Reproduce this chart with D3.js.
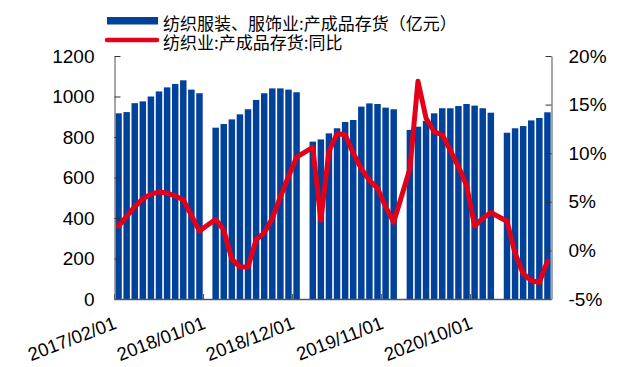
<!DOCTYPE html>
<html><head><meta charset="utf-8">
<script src="https://cdn.jsdelivr.net/npm/d3@7"></script>
<style>body{margin:0;background:#fff}svg{display:block}</style>
</head><body>
<svg id="c" width="626" height="367"></svg>
<script>
const months = [
"2017/02/01","2017/03/01","2017/04/01","2017/05/01","2017/06/01","2017/07/01","2017/08/01","2017/09/01","2017/10/01","2017/11/01","2017/12/01",
"2018/01/01","2018/02/01","2018/03/01","2018/04/01","2018/05/01","2018/06/01","2018/07/01","2018/08/01","2018/09/01","2018/10/01","2018/11/01","2018/12/01",
"2019/01/01","2019/02/01","2019/03/01","2019/04/01","2019/05/01","2019/06/01","2019/07/01","2019/08/01","2019/09/01","2019/10/01","2019/11/01","2019/12/01",
"2020/01/01","2020/02/01","2020/03/01","2020/04/01","2020/05/01","2020/06/01","2020/07/01","2020/08/01","2020/09/01","2020/10/01","2020/11/01","2020/12/01",
"2021/01/01","2021/02/01","2021/03/01","2021/04/01","2021/05/01","2021/06/01","2021/07/01"];
const inventory = [
917,923,967,976,1000,1025,1045,1062,1080,1034,1016,
null,846,864,887,912,937,983,1016,1040,1040,1034,1021,
null,777,788,818,843,874,884,950,966,963,945,937,
null,835,851,880,917,942,942,953,963,955,942,920,
null,821,843,854,882,894,922];
const yoy = [
2.5,3.5,4.5,5.3,5.8,6.0,5.9,5.6,5.2,3.6,2.0,
null,3.2,2.1,-0.9,-1.7,-1.7,1.1,1.8,3.3,5.5,7.6,9.6,
null,10.6,3.1,10.2,12.0,11.9,10.0,8.4,7.2,6.4,4.5,2.9,
null,8.4,17.4,13.6,12.2,11.9,10.3,8.6,6.7,2.5,3.3,3.9,
null,3.0,-0.3,-2.4,-3.1,-3.3,-1.1];
const xTickLabels = ["2017/02/01","2018/01/01","2018/12/01","2019/11/01","2020/10/01"];
const leftTicks = [0,200,400,600,800,1000,1200];
const rightTicks = [-5,0,5,10,15,20];
const seriesNames = ["纺织服装、服饰业:产成品存货（亿元）","纺织业:产成品存货:同比"];

const svg = d3.select("#c");
const L = 114.5, R = 551.5, T = 56, B = 299;
const x = d3.scaleBand().domain(months).range([L, R]).paddingInner(0.2).paddingOuter(0.1);
const yL = d3.scaleLinear().domain([0,1200]).range([B,T]);
const yR = d3.scaleLinear().domain([-5,20]).range([B,T]);
const blue = "#00419a", red = "#e3001b";
const font = "'Liberation Sans', Arial, sans-serif";

// bars
svg.append("g").selectAll("rect").data(months.map((m,i)=>({m, v:inventory[i]})).filter(d=>d.v!=null))
  .join("rect")
  .attr("x", d=>x(d.m)).attr("width", x.bandwidth())
  .attr("y", d=>yL(d.v)).attr("height", d=>B - yL(d.v))
  .attr("fill", blue);

// line
const pts = months.map((m,i)=>({m, v:yoy[i]})).filter(d=>d.v!=null);
svg.append("path").datum(pts)
  .attr("fill","none").attr("stroke",red).attr("stroke-width",5)
  .attr("stroke-linejoin","round").attr("stroke-linecap","round")
  .attr("d", d3.line().x(d=>x(d.m)+x.bandwidth()/2).y(d=>yR(d.v)));

// left axis
const gl = svg.append("g").attr("transform",`translate(${L},0)`)
  .call(d3.axisLeft(yL).tickValues(leftTicks).tickFormat(d=>String(d)).tickSizeInner(-6).tickSizeOuter(0).tickPadding(20));
gl.select(".domain").attr("stroke","#888").attr("stroke-width",1.5);
gl.selectAll(".tick line").attr("stroke","#333");
gl.selectAll(".tick text").attr("font-family",font).attr("font-size",19).attr("fill","#000");

// right axis
const gr = svg.append("g").attr("transform",`translate(${R},0)`)
  .call(d3.axisRight(yR).tickValues(rightTicks).tickFormat(d=>d+"%").tickSizeInner(-6).tickSizeOuter(0).tickPadding(17));
gr.select(".domain").attr("stroke","#888").attr("stroke-width",1.5);
gr.selectAll(".tick line").attr("stroke","#333");
gr.selectAll(".tick text").attr("font-family",font).attr("font-size",19).attr("fill","#000");

// bottom axis
svg.append("line").attr("x1",L).attr("x2",R).attr("y1",B+0.5).attr("y2",B+0.5).attr("stroke","#555").attr("stroke-width",1.5);
const gx = svg.append("g");
xTickLabels.forEach(lab=>{
  const tx = x(lab) - (x.step()-x.bandwidth())/2;
  gx.append("line").attr("x1",tx).attr("x2",tx).attr("y1",B).attr("y2",B-5).attr("stroke","#555");
  gx.append("text").attr("transform",`translate(${tx+3},${B+29}) rotate(-21)`)
    .attr("text-anchor","end").attr("font-family",font).attr("font-size",18.5).attr("fill","#000").text(lab);
});

// legend
const lg = svg.append("g");
lg.append("rect").attr("x",107).attr("y",17).attr("width",51).attr("height",7.5).attr("fill",blue);
lg.append("line").attr("x1",107).attr("x2",157).attr("y1",40).attr("y2",40).attr("stroke",red).attr("stroke-width",4.5).attr("stroke-linecap","round");
lg.append("text").attr("x",163).attr("y",23.5).attr("dy","0.36em").attr("font-family","'Noto Sans CJK SC', sans-serif").attr("font-size",17).attr("fill","#000").text(seriesNames[0]);
lg.append("text").attr("x",163).attr("y",42.5).attr("dy","0.36em").attr("font-family","'Noto Sans CJK SC', sans-serif").attr("font-size",17).attr("fill","#000").text(seriesNames[1]);
</script>
</body></html>
